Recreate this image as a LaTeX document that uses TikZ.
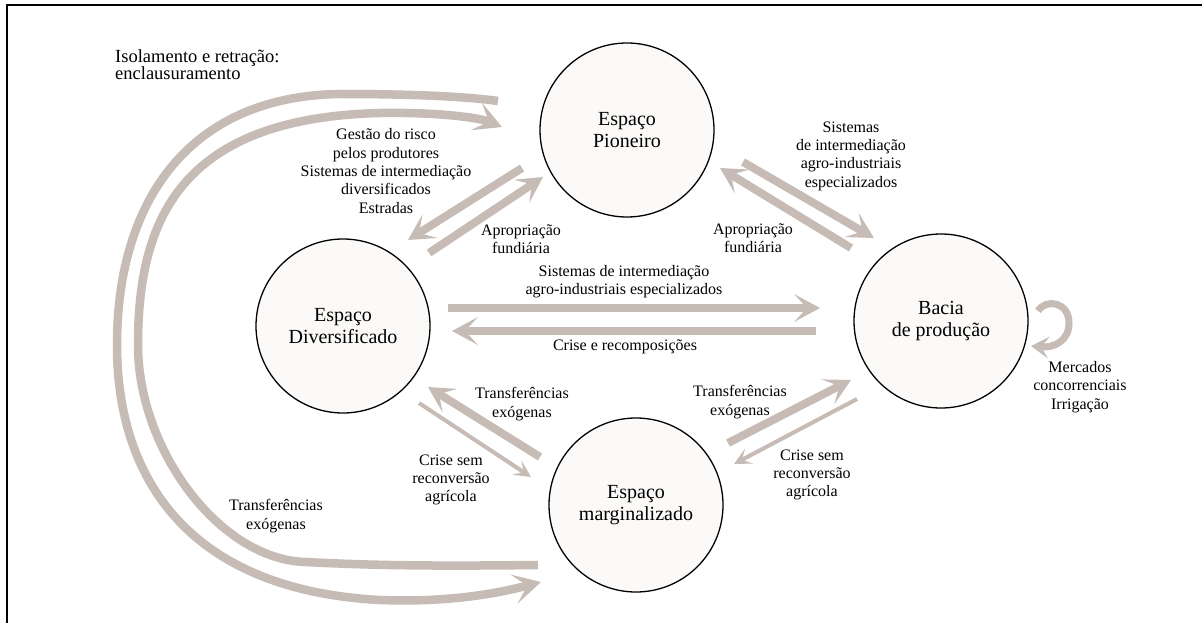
\documentclass[tikz,border=0pt]{standalone}
\usepackage{fontspec}
\setmainfont{Liberation Serif}
\usetikzlibrary{arrows.meta}
\definecolor{band}{RGB}{198,187,181}
\definecolor{disc}{RGB}{252,250,248}
\begin{document}
\begin{tikzpicture}[x=1pt,y=-1pt,
  place/.style={circle,draw=black,line width=1.3pt,fill=disc,minimum size=174pt,inner sep=0pt,align=center,font=\fontsize{20}{22}\selectfont},
  lbl/.style={align=center,font=\fontsize{16}{18.3}\selectfont,inner sep=0pt},
  wide/.style={draw=band,line width=8pt,-{Stealth[length=26pt,width=28pt,inset=13pt,line width=0pt]}},
  slim/.style={draw=band,line width=4pt,-{Stealth[length=17pt,width=17pt,inset=8pt,line width=0pt]}},
  curvearrow/.style={draw=band,line width=8.5pt,-{Stealth[length=28pt,width=30pt,inset=14pt,line width=0pt]}}
]
\useasboundingbox (0,0) rectangle (1202,623);
\fill[white] (0,0) rectangle (1202,623);
\draw[line width=2pt] (7,623) -- (7,5) -- (1202,5);

% places
\node[place] (piv) at (627,130) {Espaço\\Pioneiro};
\node[place] (div) at (343,326) {Espaço\\Diversificado};
\node[place] (bac) at (941,321) {Bacia\\de produção};
\node[place] (mar) at (636,505) {Espaço\\marginalizado};

% end points
\coordinate (a1) at (522,168); \coordinate (a2) at (408,240);
\coordinate (b1) at (429,253); \coordinate (b2) at (543,177);
\coordinate (c1) at (851,248); \coordinate (c2) at (720,168);
\coordinate (d1) at (743,162); \coordinate (d2) at (874,238);
\coordinate (e1) at (448,308); \coordinate (e2) at (820,308);
\coordinate (f1) at (816,331); \coordinate (f2) at (452,331);
\coordinate (g1) at (540,457); \coordinate (g2) at (428,387);
\coordinate (h1) at (419,403); \coordinate (h2) at (531,477);
\coordinate (i1) at (728,443); \coordinate (i2) at (851,380);
\coordinate (j1) at (857,399); \coordinate (j2) at (734,464);
\coordinate (o1) at (498,101); \coordinate (o2) at (541,582);
\coordinate (n1) at (538,565); \coordinate (n2) at (502,127);
\coordinate (s1) at (1038,311); \coordinate (s2) at (1031,346);

% straight arrows
\draw[wide] (a1) -- (a2);
\draw[wide] (b1) -- (b2);
\draw[wide] (c1) -- (c2);
\draw[wide] (d1) -- (d2);
\draw[wide] (e1) -- (e2);
\draw[wide] (f1) -- (f2);
\draw[wide] (g1) -- (g2);
\draw[slim] (h1) -- (h2);
\draw[wide] (i1) -- (i2);
\draw[slim] (j1) -- (j2);

% big curved bands
\draw[curvearrow] (o1) .. controls (470,97) and (420,94) .. (340,94)
   .. controls (190,96) and (117,200) .. (117,345)
   .. controls (117,480) and (190,590) .. (380,600)
   .. controls (460,603) and (510,590) .. (o2);
\draw[curvearrow] (n1) .. controls (450,566) and (380,566) .. (306,562)
   .. controls (220,560) and (138,450) .. (138,345)
   .. controls (138,220) and (180,118) .. (380,113)
   .. controls (440,112) and (480,118) .. (n2);

% self loop
\draw[draw=band,line width=7pt,-{Stealth[length=18pt,width=22pt,inset=8pt,line width=0pt]}]
  (s1) .. controls (1046,298) and (1069,302) .. (1069,323)
       .. controls (1069,341) and (1054,348) .. (s2);

% labels
\node[lbl,align=left,anchor=west,font=\fontsize{18.5}{17}\selectfont] (l0) at (115,64.5) {Isolamento e retração:\\enclausuramento};
\node[lbl] (l1) at (386,171) {Gestão do risco\\pelos produtores\\Sistemas de intermediação\\diversificados\\Estradas};
\node[lbl] (l2) at (521,239) {Apropriação\\fundiária};
\node[lbl] (l3) at (851,156) {Sistemas\\de intermediação\\agro-industriais\\especializados};
\node[lbl] (l4) at (753,238) {Apropriação\\fundiária};
\node[lbl] (l5) at (624,282) {Sistemas de intermediação\\agro-industriais especializados};
\node[lbl] (l6) at (625,347) {Crise e recomposições};
\node[lbl] (l7) at (1080,387) {Mercados\\concorrenciais\\Irrigação};
\node[lbl] (l8) at (522,404) {Transferências\\exógenas};
\node[lbl] (l9) at (451,480) {Crise sem\\reconversão\\agrícola};
\node[lbl] (l10) at (276,516) {Transferências\\exógenas};
\node[lbl] (l11) at (740,402) {Transferências\\exógenas};
\node[lbl] (l12) at (812,475) {Crise sem\\reconversão\\agrícola};
\end{tikzpicture}
\end{document}
